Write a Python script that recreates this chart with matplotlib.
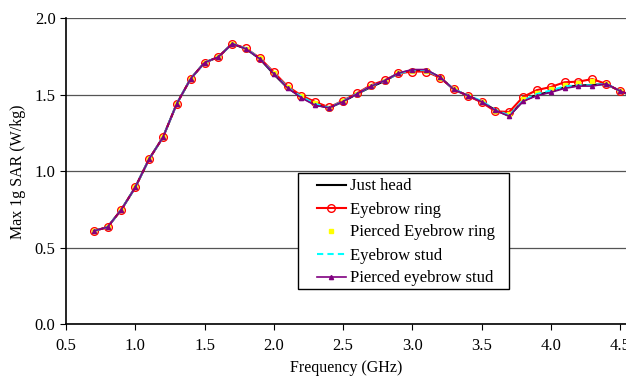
import matplotlib.pyplot as plt
from matplotlib.patches import Rectangle

plt.rcParams['font.family'] = ['Liberation Serif', 'DejaVu Serif']

freq = [0.7, 0.8, 0.9, 1.0, 1.1, 1.2, 1.3, 1.4, 1.5, 1.6,
        1.7, 1.8, 1.9, 2.0, 2.1, 2.2, 2.3, 2.4, 2.5, 2.6,
        2.7, 2.8, 2.9, 3.0, 3.1, 3.2, 3.3, 3.4, 3.5, 3.6,
        3.7, 3.8, 3.9, 4.0, 4.1, 4.2, 4.3, 4.4, 4.5, 4.6]

just_head = [0.61, 0.635, 0.75, 0.895, 1.08, 1.222, 1.442, 1.605, 1.71, 1.747,
             1.834, 1.800, 1.735, 1.635, 1.545, 1.485, 1.435, 1.415, 1.455, 1.505,
             1.550, 1.590, 1.640, 1.660, 1.660, 1.615, 1.535, 1.495, 1.455, 1.400,
             1.362, 1.460, 1.500, 1.520, 1.550, 1.560, 1.565, 1.570, 1.525, 1.49]

eyebrow_ring = [0.61, 0.635, 0.75, 0.895, 1.08, 1.222, 1.442, 1.605, 1.71, 1.747,
                1.834, 1.804, 1.740, 1.648, 1.555, 1.495, 1.453, 1.418, 1.462, 1.510,
                1.562, 1.595, 1.640, 1.652, 1.652, 1.612, 1.536, 1.494, 1.451, 1.392,
                1.388, 1.486, 1.531, 1.551, 1.582, 1.586, 1.603, 1.571, 1.525, 1.49]

pierced_ring = [0.61, 0.635, 0.75, 0.895, 1.08, 1.222, 1.442, 1.605, 1.71, 1.747,
                1.834, 1.802, 1.738, 1.645, 1.550, 1.490, 1.445, 1.416, 1.460, 1.508,
                1.558, 1.593, 1.640, 1.655, 1.656, 1.613, 1.536, 1.495, 1.453, 1.396,
                1.375, 1.470, 1.510, 1.535, 1.565, 1.575, 1.590, 1.571, 1.525, 1.49]

eyebrow_stud = [0.61, 0.635, 0.75, 0.895, 1.08, 1.222, 1.442, 1.605, 1.71, 1.747,
                1.834, 1.802, 1.737, 1.640, 1.548, 1.487, 1.440, 1.416, 1.458, 1.506,
                1.555, 1.592, 1.640, 1.660, 1.662, 1.615, 1.536, 1.497, 1.460, 1.402,
                1.365, 1.462, 1.505, 1.528, 1.555, 1.562, 1.562, 1.572, 1.525, 1.49]

pierced_stud = [0.61, 0.635, 0.75, 0.895, 1.08, 1.222, 1.442, 1.605, 1.71, 1.747,
                1.834, 1.800, 1.735, 1.638, 1.545, 1.480, 1.431, 1.415, 1.456, 1.505,
                1.555, 1.592, 1.642, 1.665, 1.665, 1.616, 1.535, 1.495, 1.455, 1.398,
                1.360, 1.458, 1.494, 1.516, 1.542, 1.557, 1.557, 1.572, 1.525, 1.49]

fig = plt.figure(figsize=(6.26, 3.82), dpi=100)
ax = fig.add_axes([66 / 626, 57.7 / 382, 560 / 626, 306 / 382])

ax.plot(freq, just_head, color='black', lw=1.5, label='Just head')
ax.plot(freq, eyebrow_ring, color='red', lw=1.5, marker='o', ms=5.5,
        mfc='none', mec='red', mew=1, label='Eyebrow ring')
ax.plot(freq, pierced_ring, color='yellow', lw=0, marker='s', ms=3,
        label='Pierced Eyebrow ring')
ax.plot(freq, eyebrow_stud, color='cyan', lw=1.5, ls=(0, (3, 2)),
        label='Eyebrow stud')
ax.plot(freq, pierced_stud, color='#800080', lw=1.2, marker='^', ms=3,
        label='Pierced eyebrow stud')

ax.set_xlim(0.5, 0.5 + 560 / 138.5)
ax.set_ylim(0, 2.0)
ax.set_xticks([0.5, 1.0, 1.5, 2.0, 2.5, 3.0, 3.5, 4.0, 4.5])
ax.set_yticks([0.0, 0.5, 1.0, 1.5, 2.0])
ax.xaxis.set_major_formatter(plt.FormatStrFormatter('%.1f'))
ax.yaxis.set_major_formatter(plt.FormatStrFormatter('%.1f'))
ax.tick_params(axis='both', direction='out', length=4, labelsize=12, color='black')
ax.tick_params(axis='x', pad=6)

ax.grid(axis='y', color='#555555', lw=0.9)
ax.set_axisbelow(True)
ax.spines['top'].set_visible(False)
ax.spines['right'].set_visible(False)
ax.spines['left'].set_linewidth(1.2)
ax.spines['bottom'].set_linewidth(1.2)

ax.set_xlabel('Frequency (GHz)', fontsize=11.5, labelpad=4)
ax.set_ylabel('Max 1g SAR (W/kg)', fontsize=11.5, labelpad=6)

# legend box: wider side padding than matplotlib allows, so frame drawn separately
ax.add_patch(Rectangle((0.414, 0.1154), 0.377, 0.379, transform=ax.transAxes,
                       facecolor='white', edgecolor='black', lw=1, zorder=4))
leg = ax.legend(loc='center left', bbox_to_anchor=(0.448, 0.300), borderaxespad=0,
                fontsize=12, frameon=False, handlelength=1.75, handletextpad=0.25,
                labelspacing=0.42, borderpad=0)
leg.set_zorder(5)

fig.savefig('out.png', dpi=100)
